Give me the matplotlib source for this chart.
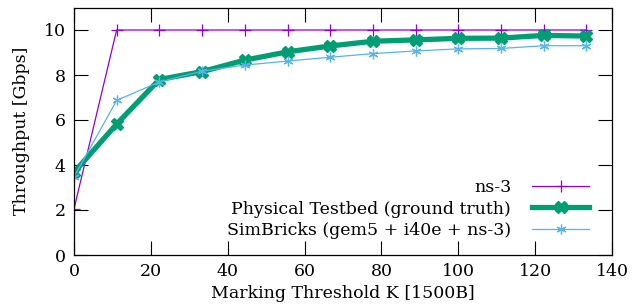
import numpy as np
import matplotlib.pyplot as plt

plt.rcParams['font.family'] = ['DejaVu Serif']

# marking threshold K (x axis)
k = [0, 11.1, 22.2, 33.3, 44.4, 55.6, 66.7, 77.8, 88.9, 100, 111.1, 122.2, 133.3]

ns3 = [2.05, 10, 10, 10, 10, 10, 10, 10, 10, 10, 10, 10, 10]
physical = [3.67, 5.82, 7.8, 8.15, 8.66, 9.03, 9.29, 9.5, 9.56, 9.63, 9.64, 9.76, 9.73]
simbricks = [3.47, 6.87, 7.69, 8.17, 8.44, 8.62, 8.79, 8.95, 9.07, 9.16, 9.18, 9.3, 9.3]

fig = plt.figure(figsize=(6.36, 3.07), dpi=100)
ax = fig.add_axes([74 / 636, 1 - 255 / 307, (612 - 74) / 636, (255 - 7.5) / 307])

ax.plot(k, ns3, color='#9400d3', lw=0.9, marker='+', ms=8, mew=0.9,
        label='ns-3')
ax.plot(k, physical, color='#009e73', lw=3.8, marker='X', ms=9, mew=1,
        label='Physical Testbed (ground truth)')
ax.plot(k, simbricks, color='#56b4e9', lw=0.9, marker=(6, 2, 0), ms=7, mew=0.9,
        label='SimBricks (gem5 + i40e + ns-3)')

ax.set_xlim(0, 140)
ax.set_ylim(0, 11)
ax.set_xticks(np.arange(0, 141, 20))
ax.set_yticks(np.arange(0, 11, 2))
ax.tick_params(direction='in', length=10, width=0.8, top=True, right=True,
               labelsize=12.5, pad=6)
for s in ax.spines.values():
    s.set_linewidth(0.9)

ax.set_xlabel('Marking Threshold K [1500B]', fontsize=12.5, labelpad=3)
ax.set_ylabel('Throughput [Gbps]', fontsize=12.5, labelpad=10)

ax.legend(loc='center right', bbox_to_anchor=((598 - 74) / 538, (255 - 209) / 247.5),
          bbox_transform=ax.transAxes, markerfirst=False, frameon=False,
          fontsize=12.5, handlelength=3.3, handletextpad=1.2, labelspacing=0.25,
          borderpad=0)

plt.savefig('out.png', dpi=100)
